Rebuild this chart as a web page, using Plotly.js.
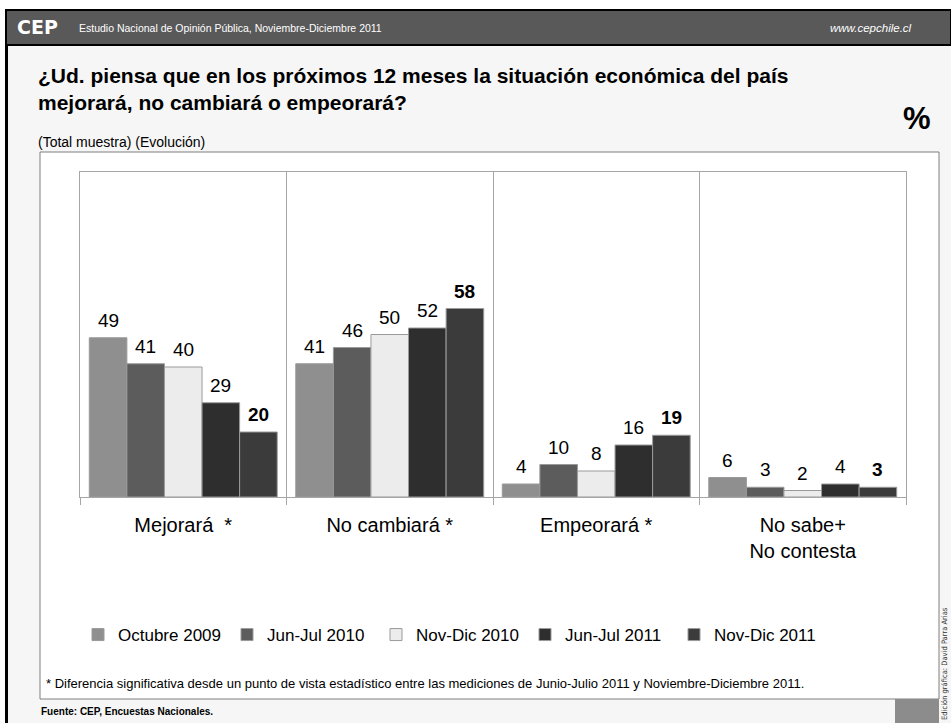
<!DOCTYPE html>
<html>
<head>
<meta charset="utf-8">
<script src="https://cdn.plot.ly/plotly-3.0.1.min.js"></script>
<style>
  html, body { margin: 0; padding: 0; background: #ffffff; }
  #chart { width: 951px; height: 723px; }
</style>
</head>
<body>
<div id="chart"></div>
<script>
// ---- Data ----
const categories = ["Mejorará\u00a0\u00a0*", "No cambiará *", "Empeorará *", "No sabe+<br>No contesta"];
const seriesNames = ["Octubre 2009", "Jun-Jul 2010", "Nov-Dic 2010", "Jun-Jul 2011", "Nov-Dic 2011"];
const oct2009 = [49, 41, 4, 6];
const junjul2010 = [41, 46, 10, 3];
const novdic2010 = [40, 50, 8, 2];
const junjul2011 = [29, 52, 16, 4];
const novdic2011 = [20, 58, 19, 3];

// ---- Styling ----
const seriesValues = [oct2009, junjul2010, novdic2010, junjul2011, novdic2011];
const seriesColors = ["#8f8f8f", "#5c5c5c", "#ececec", "#2e2e2e", "#3b3b3b"];
const boldSeries = [false, false, false, false, true];
const FONT = "Liberation Sans, Arial, sans-serif";
const BARGAP = 0.09;

// plot area in pixels
const W = 951, H = 723;
const L = 80, R = 906, T = 172, B = 497;
const px = x => (x - L) / (R - L);
const py = y => (B - y) / (B - T);

const xpos = categories.map((c, i) => i);

const traces = seriesValues.map((vals, k) => ({
  type: "bar",
  name: seriesNames[k],
  x: xpos,
  y: vals,
  marker: { color: seriesColors[k], line: { color: "#9a9a9a", width: 1 } },
  hoverinfo: "skip"
}));

const annotations = [];
const n = seriesValues.length;
const slot = (1 - BARGAP) / n;
seriesValues.forEach((vals, k) => {
  vals.forEach((v, i) => {
    annotations.push({
      x: i + (k - (n - 1) / 2) * slot, y: v, xref: "x", yref: "y",
      text: String(v), showarrow: false, yanchor: "bottom", xanchor: "center", yshift: 5,
      font: { family: FONT, size: 19, color: "#000", weight: boldSeries[k] ? "bold" : "normal" }
    });
  });
});

function txt(text, x, y, opts) {
  annotations.push(Object.assign({
    text: text, x: px(x), y: py(y), xref: "paper", yref: "paper",
    showarrow: false, xanchor: "left", yanchor: "middle"
  }, opts));
}

txt("CEP", 15, 27, { font: { family: "DejaVu Sans, sans-serif", size: 19, color: "#ffffff", weight: "bold" } });
txt("Estudio Nacional de Opinión Pública, Noviembre-Diciembre 2011", 77, 28, { font: { family: FONT, size: 10.5, color: "#ffffff" } });
txt("<i>www.cepchile.cl</i>", 914, 28, { xanchor: "right", font: { family: FONT, size: 11.5, color: "#ffffff" } });
txt("¿Ud. piensa que en los próximos 12 meses la situación económica del país<br>mejorará, no cambiará o empeorará?", 36, 89, { align: "left", font: { family: FONT, size: 21, color: "#000", weight: "bold" } });
txt("(Total muestra) (Evolución)", 36, 142, { font: { family: FONT, size: 14, color: "#000" } });
txt("%", 917, 118, { xanchor: "center", font: { family: FONT, size: 31, color: "#000", weight: "bold" } });
txt("* Diferencia significativa desde un punto de vista estadístico entre las mediciones de Junio-Julio 2011 y Noviembre-Diciembre 2011.", 44, 683, { font: { family: FONT, size: 13, color: "#000" } });
txt("Fuente: CEP, Encuestas Nacionales.", 39, 711, { font: { family: FONT, size: 10, color: "#000", weight: "bold" } });
txt("Edición gráfica: David Parra Arias", 944, 664, { xanchor: "center", yanchor: "middle", textangle: -90, borderpad: 0, font: { family: "DejaVu Sans Condensed, DejaVu Sans, sans-serif", size: 7.5, color: "#333" } });

function rect(x0, y0, x1, y1, fill, line, lw, layer) {
  return {
    type: "rect", xref: "paper", yref: "paper",
    x0: px(x0), x1: px(x1), y0: py(y0), y1: py(y1),
    fillcolor: fill, line: { color: line || fill, width: lw === undefined ? 0 : lw },
    layer: layer || "below"
  };
}

const shapes = [
  rect(8, 46, 951, 723, "#f6f6f6", null, 0),
  rect(5, 9, 8, 723, "#000000", null, 0),
  rect(6, 10, 951, 45, "#595959", "#000000", 2),
  rect(40, 152, 939, 699, "#ffffff", "#7f7f7f", 1),
  rect(895, 699, 939, 723, "#8c8c8c", null, 0)
];

const layout = {
  width: W, height: H,
  margin: { l: L, r: W - R, t: T, b: H - B, pad: 0 },
  paper_bgcolor: "#ffffff",
  plot_bgcolor: "rgba(0,0,0,0)",
  barmode: "group",
  bargap: BARGAP,
  bargroupgap: 0,
  showlegend: true,
  legend: {
    orientation: "h", x: px(78), xanchor: "left", y: py(635), yanchor: "middle",
    font: { family: FONT, size: 17, color: "#000" }, bgcolor: "rgba(0,0,0,0)",
    entrywidth: 104, traceorder: "normal"
  },
  xaxis: {
    range: [-0.5, 3.5], tickmode: "array", tickvals: xpos, ticktext: categories,
    ticks: "", showgrid: false, zeroline: false,
    showline: true, mirror: true, linecolor: "#a6a6a6", linewidth: 1,
    tickfont: { family: FONT, size: 20, color: "#000" },
    ticklabelstandoff: 10,
    minor: { tickmode: "array", tickvals: [-0.5, 0.5, 1.5, 2.5, 3.5], ticks: "outside", ticklen: 7, tickcolor: "#a6a6a6", tickwidth: 1, showgrid: true, gridcolor: "#a6a6a6", gridwidth: 1 },
    fixedrange: true
  },
  yaxis: {
    range: [0, 100], showticklabels: false, ticks: "", showgrid: false, zeroline: false,
    showline: true, mirror: true, linecolor: "#a6a6a6", linewidth: 1, fixedrange: true
  },
  shapes: shapes,
  annotations: annotations
};

Plotly.newPlot("chart", traces, layout, { displayModeBar: false, staticPlot: true });
</script>
</body>
</html>
